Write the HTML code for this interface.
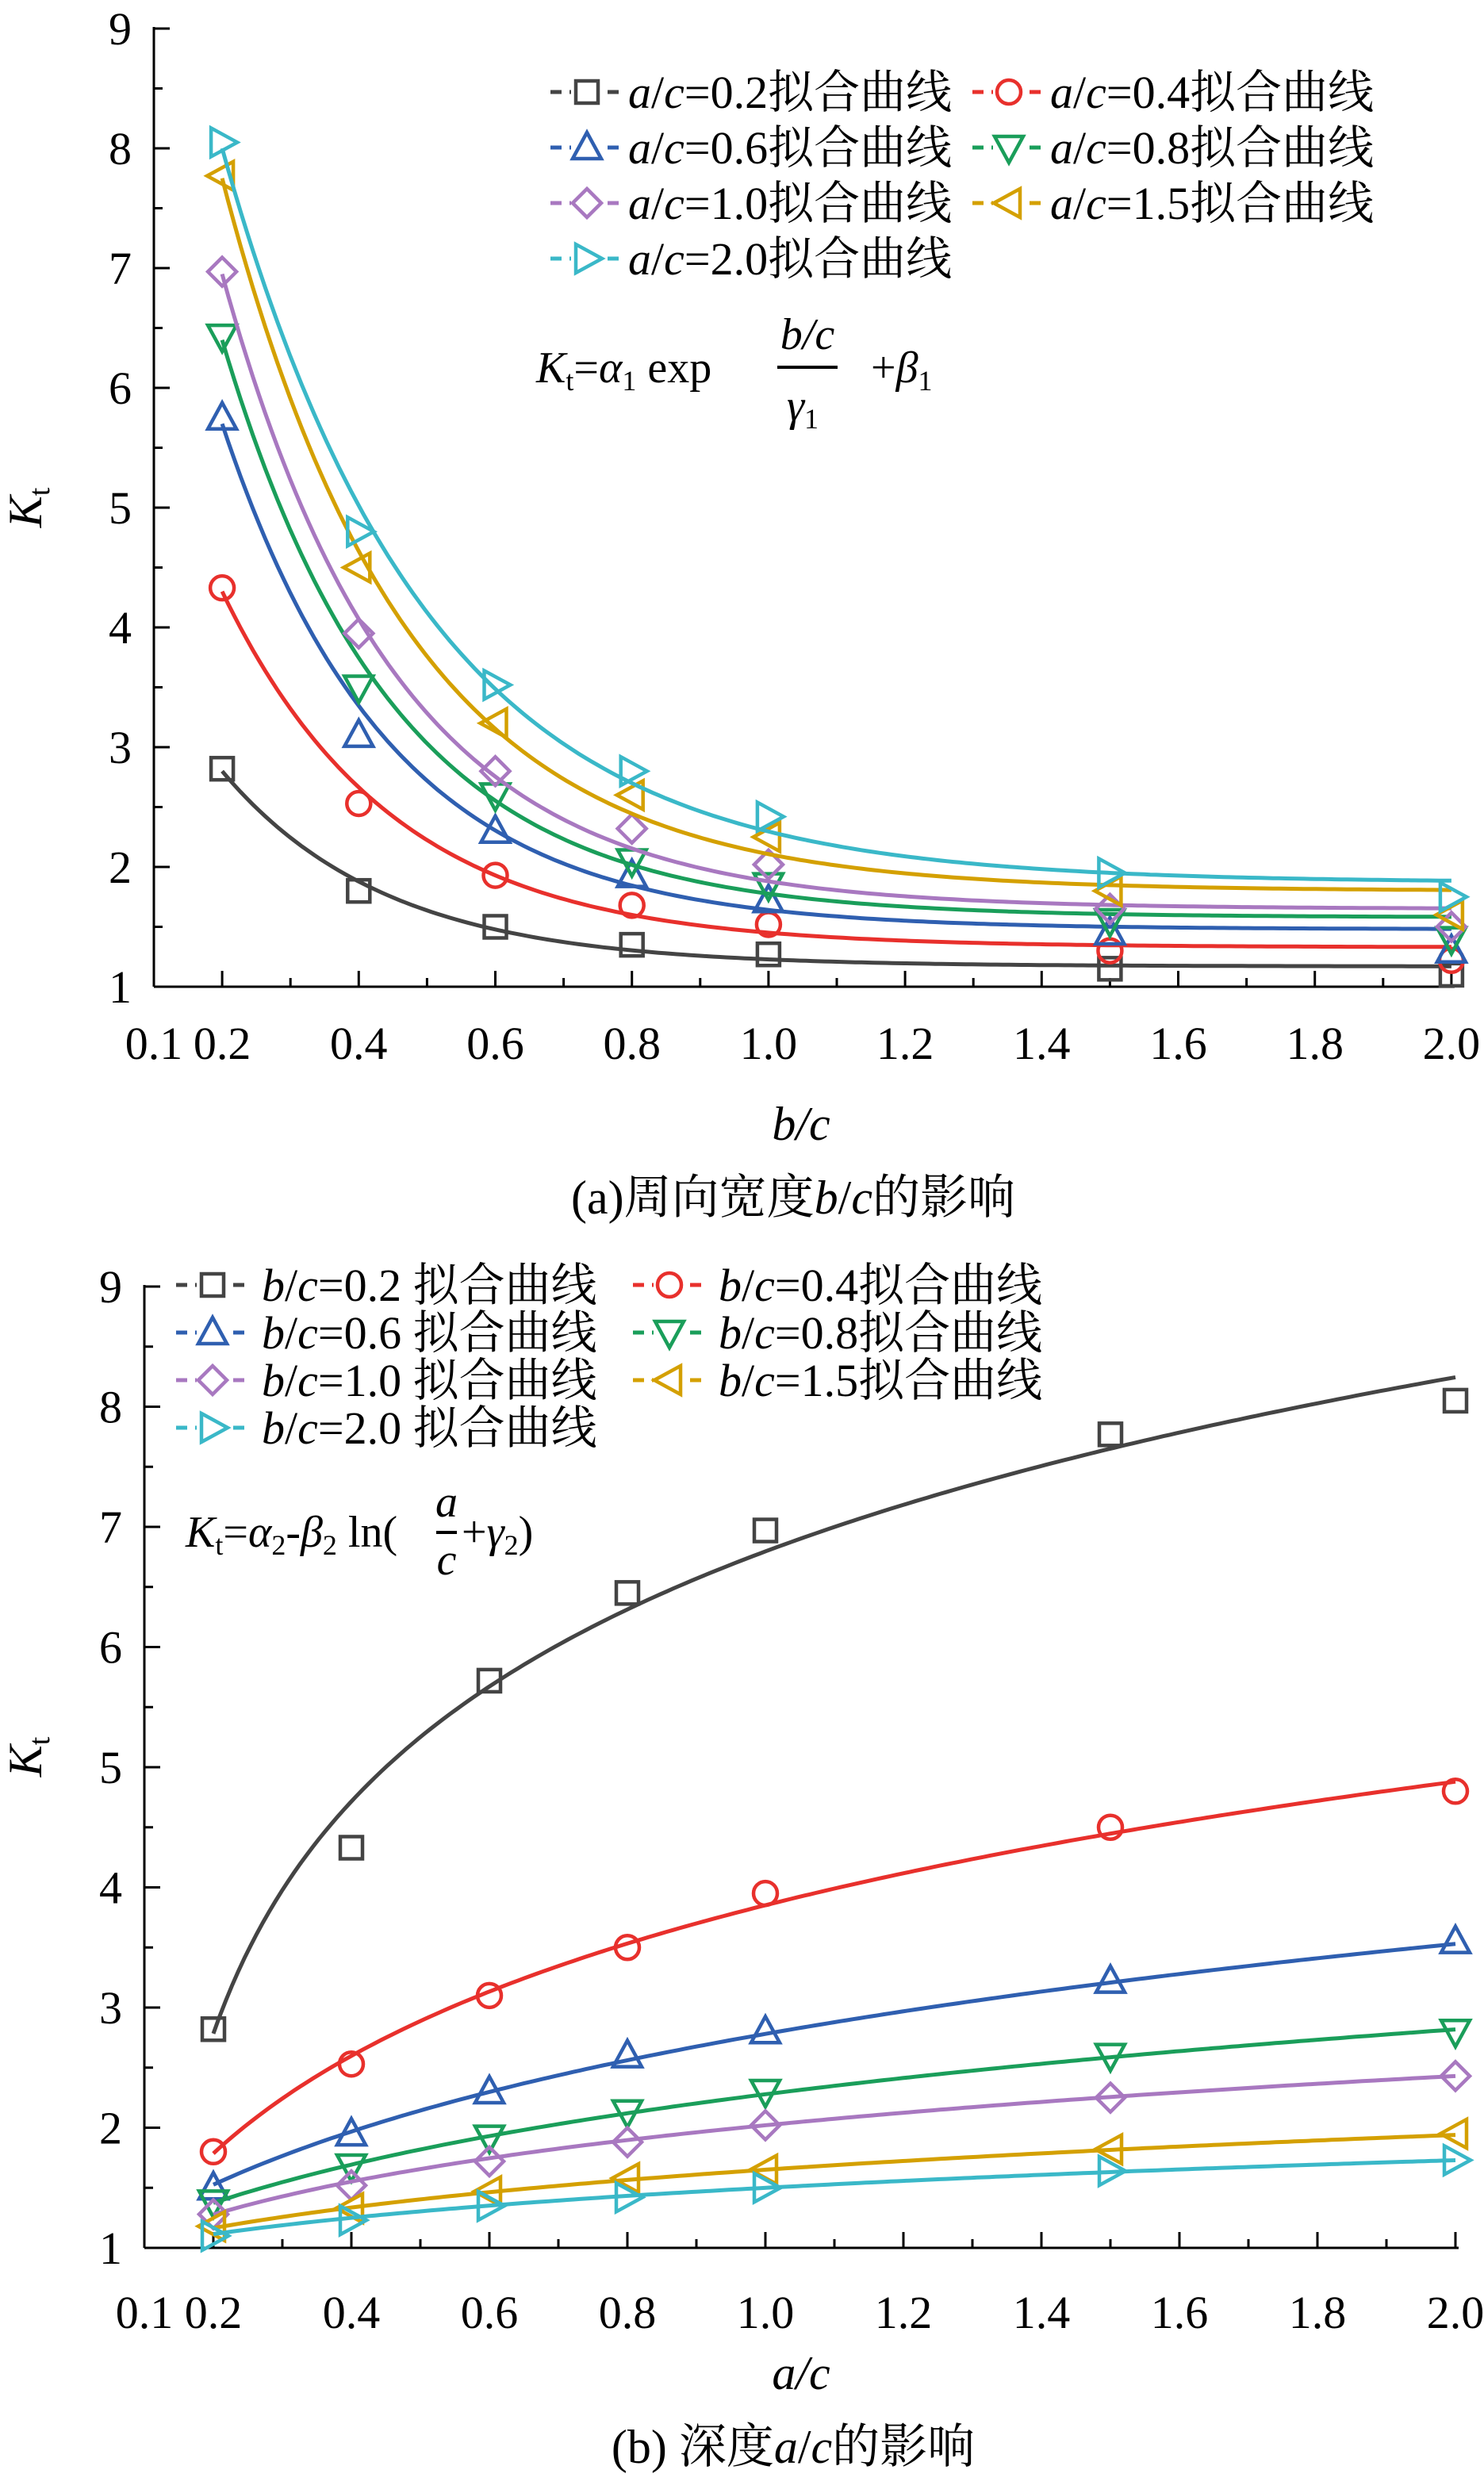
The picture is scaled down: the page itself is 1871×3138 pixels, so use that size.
<!DOCTYPE html>
<html><head><meta charset="utf-8">
<style>
html,body{margin:0;padding:0;background:#fff;}
svg{display:block;font-family:"Liberation Serif","Noto Serif CJK SC",serif;}
</style></head>
<body>
<svg id="root" width="1871" height="3138" viewBox="0 0 1871 3138" xmlns="http://www.w3.org/2000/svg"></svg>
<script>
// ---------- data ----------
const xCats = [0.2, 0.4, 0.6, 0.8, 1.0, 1.5, 2.0];
const colors = ['#444444', '#e8302c', '#2f5fb0', '#1a9e5a', '#a878c0', '#d4a000', '#3ab8c8'];
const markers = ['square', 'circle', 'up', 'down', 'diamond', 'left', 'right'];
const labelsA = ['0.2', '0.4', '0.6', '0.8', '1.0', '1.5', '2.0'];
// chart (a): rows = a/c series, values at b/c categories
const kA0 = [2.82, 1.80, 1.50, 1.35, 1.27, 1.15, 1.10];
const kA1 = [4.33, 2.53, 1.93, 1.68, 1.52, 1.30, 1.22];
const kA2 = [5.75, 3.10, 2.30, 1.93, 1.72, 1.45, 1.30];
const kA3 = [6.43, 3.50, 2.60, 2.05, 1.85, 1.55, 1.40];
const kA4 = [6.97, 3.95, 2.80, 2.32, 2.02, 1.65, 1.50];
const kA5 = [7.77, 4.50, 3.20, 2.60, 2.25, 1.80, 1.60];
const kA6 = [8.05, 4.80, 3.52, 2.80, 2.42, 1.95, 1.75];
// fit params chart (a): K = alpha*exp(-x/gamma)+beta
const fitA_k02 = [2.80, 4.30, 5.70, 6.40, 6.95, 7.75, 8.00];
const fitA_beta = [1.17, 1.33, 1.48, 1.58, 1.65, 1.80, 1.87];
const fitA_gamma = [0.24, 0.25, 0.245, 0.25, 0.255, 0.27, 0.30];
// chart (b)
const kB0 = [2.82, 4.33, 5.72, 6.45, 6.97, 7.77, 8.05];
const kB1 = [1.80, 2.53, 3.10, 3.50, 3.95, 4.50, 4.80];
const kB2 = [1.50, 1.95, 2.30, 2.60, 2.80, 3.22, 3.55];
const kB3 = [1.38, 1.68, 1.92, 2.13, 2.30, 2.60, 2.80];
const kB4 = [1.28, 1.52, 1.72, 1.88, 2.02, 2.25, 2.43];
const kB5 = [1.18, 1.33, 1.47, 1.58, 1.65, 1.82, 1.95];
const kB6 = [1.10, 1.23, 1.35, 1.42, 1.50, 1.64, 1.73];
// fit params chart (b): K = p + q*ln(x + r)
const fitB_p = [6.96, 3.70, 2.436, 2.03, 1.897, 1.517, 1.394];
const fitB_q = [1.97, 1.59, 1.313, 0.946, 0.676, 0.508, 0.403];
const fitB_r = [-0.08, 0.10, 0.30, 0.30, 0.20, 0.30, 0.30];
const xTicks = ['0.1','0.2','0.4','0.6','0.8','1.0','1.2','1.4','1.6','1.8','2.0'];
const yTicks = [1,2,3,4,5,6,7,8,9];

const NS='http://www.w3.org/2000/svg';
const root=document.getElementById('root');
function el(tag,attrs,parent){const e=document.createElementNS(NS,tag);for(const k in attrs)e.setAttribute(k,attrs[k]);(parent||root).appendChild(e);return e;}

function marker(g,type,cx,cy,color){
  const s=17;let e;
  if(type==='square') e=el('rect',{x:cx-s+3,y:cy-s+3,width:2*s-6,height:2*s-6},g);
  else if(type==='circle') e=el('circle',{cx:cx,cy:cy,r:s-2},g);
  else {
    let pts;
    if(type==='up') pts=[[0,-s-2],[s+1,s-3],[-s-1,s-3]];
    else if(type==='down') pts=[[0,s+2],[s+1,-s+3],[-s-1,-s+3]];
    else if(type==='diamond') pts=[[0,-s-1],[s+1,0],[0,s+1],[-s-1,0]];
    else if(type==='left') pts=[[-s-2,0],[s-3,-s-1],[s-3,s+1]];
    else pts=[[s+2,0],[-s+3,-s-1],[-s+3,s+1]];
    e=el('polygon',{points:pts.map(p=>(cx+p[0])+','+(cy+p[1])).join(' ')},g);
  }
  e.setAttribute('fill','none');e.setAttribute('stroke',color);e.setAttribute('stroke-width','4.5');
  
  
  return e;
}

function axes(g,X,Y,x0,x1,y0,y1){
  el('line',{x1:x0,y1:y0,x2:x1,y2:y0,stroke:'#000','stroke-width':3},g);
  el('line',{x1:x0,y1:y0,x2:x0,y2:y1,stroke:'#000','stroke-width':3},g);
  for(let v=1;v<=9;v+=0.5){
    const y=Y(v);const major=Number.isInteger(v);
    el('line',{x1:x0,y1:y,x2:x0+(major?20:11),y2:y,stroke:'#000','stroke-width':3},g);
  }
  for(let i=1;i<=19;i++){
    const v=0.1*i+0.1;const x=X(v);const major=(i%2===1);
    if(v>2.001)break;
    el('line',{x1:x,y1:y0,x2:x,y2:y0-(major?20:11),stroke:'#000','stroke-width':3},g);
  }
}

function chart(opt){
  const g=el('g',{});
  
  
  const X=v=>opt.x0+(v-0.1)*opt.xs;
  const Y=v=>opt.y1+(v-1)*(opt.y9-opt.y1)/8;
  axes(g,X,Y,opt.x0,X(2.0)+4,opt.y1,opt.y9-2);
  yTicks.forEach(v=>{const t=el('text',{x:opt.x0-28,y:Y(v)+20,'text-anchor':'end','font-size':58},g);t.textContent=v;
    });
  xTicks.forEach(s=>{const t=el('text',{x:X(parseFloat(s)),y:opt.tickY,'text-anchor':'middle','font-size':58},g);t.textContent=s;
    });
  const yt=el('text',{x:0,y:0,'font-size':60,'font-style':'italic',transform:`translate(52,${opt.ytY}) rotate(-90)`,'text-anchor':'middle'},g);
  yt.innerHTML='K<tspan font-style="normal" font-size="38" dy="10">t</tspan>';
  
  const xt=el('text',{x:1010,y:opt.xtY,'text-anchor':'middle','font-size':60,'font-style':'italic'},g);
  xt.textContent=opt.xTitle;
  
  const cp=el('text',{x:1000,y:opt.capY,'text-anchor':'middle','font-size':60},g);
  cp.innerHTML=opt.caption;
  
  // series
  opt.series.forEach((vals,i)=>{
    const sg=el('g',{},g);
    
    
    let d='';
    for(let k=0;k<=200;k++){const xv=0.2+1.8*k/200;const yv=opt.fit(i,xv);d+=(k?'L':'M')+X(xv).toFixed(1)+','+Y(yv).toFixed(1);}
    const p=el('path',{d:d,fill:'none',stroke:colors[i],'stroke-width':5},sg);
    
    vals.forEach((v,j)=>marker(sg,markers[i],X(xCats[j]),Y(v),colors[i]));
  });
  // legend
  const lg=el('g',{},g);
  
  labelsA.forEach((s,i)=>{
    const col=i%2,row=Math.floor(i/2);
    const lx=opt.legX[col],ly=opt.legY0+row*opt.legDy;
    const eg=el('g',{},lg);
    
    el('line',{x1:lx,y1:ly,x2:lx+92,y2:ly,stroke:colors[i],'stroke-width':5,'stroke-dasharray':'14,10'},eg);
    el('rect',{x:lx+26,y:ly-20,width:40,height:40,fill:'#fff'},eg);
    marker(eg,markers[i],lx+46,ly,colors[i]);
    const t=el('text',{x:lx+opt.legTx,y:ly+20,'font-size':58},eg);
    const gap=(col===0)?opt.legGap:'';
    t.innerHTML='<tspan font-style="italic">'+opt.legVar[0]+'</tspan>/<tspan font-style="italic">'+opt.legVar[1]+'</tspan>='+s+gap+'<tspan font-family="Noto Serif CJK SC, serif">拟合曲线</tspan>';
  });
}

chart({name:'chart-a-width-effect',x0:194,xs:861,y1:1244,y9:36,tickY:1335,ytY:640,xtY:1437,capY:1530,
  xTitle:'b/c',caption:'(a)<tspan font-family="Noto Serif CJK SC, serif">周向宽度</tspan><tspan font-style="italic">b</tspan>/<tspan font-style="italic">c</tspan><tspan font-family="Noto Serif CJK SC, serif">的影响</tspan>',
  series:[kA0,kA1,kA2,kA3,kA4,kA5,kA6],
  fit:(i,x)=>{const a=(fitA_k02[i]-fitA_beta[i])*Math.exp(0.2/fitA_gamma[i]);return a*Math.exp(-x/fitA_gamma[i])+fitA_beta[i];},
  legX:[694,1226],legY0:116,legDy:70,legTx:98,legVar:['a','c'],legGap:''});

chart({name:'chart-b-depth-effect',x0:182,xs:870,y1:2834,y9:1622,tickY:2935,ytY:2215,xtY:3012,capY:3105,
  xTitle:'a/c',caption:'(b) <tspan font-family="Noto Serif CJK SC, serif">深度</tspan><tspan font-style="italic">a</tspan>/<tspan font-style="italic">c</tspan><tspan font-family="Noto Serif CJK SC, serif">的影响</tspan>',
  series:[kB0,kB1,kB2,kB3,kB4,kB5,kB6],
  fit:(i,x)=>fitB_p[i]+fitB_q[i]*Math.log(x+fitB_r[i]),
  legX:[222,798],legY0:1620,legDy:60,legTx:108,legVar:['b','c'],legGap:' '});

// formulas
const f1=el('text',{x:676,y:482,'font-size':56});
f1.innerHTML='<tspan font-style="italic">K</tspan><tspan font-size="36" dy="10">t</tspan><tspan dy="-10">=</tspan><tspan font-style="italic">α</tspan><tspan font-size="36" dy="10">1</tspan><tspan dy="-10"> exp</tspan>';

const f1n=el('text',{x:1018,y:440,'font-size':56,'font-style':'italic','text-anchor':'middle'});f1n.textContent='b/c';

el('line',{x1:980,y1:463,x2:1056,y2:463,stroke:'#000','stroke-width':4});
const f1d=el('text',{x:1012,y:530,'font-size':56,'font-style':'italic','text-anchor':'middle'});f1d.innerHTML='γ<tspan font-style="normal" font-size="36" dy="10">1</tspan>';

const f1b=el('text',{x:1098,y:482,'font-size':56});f1b.innerHTML='+<tspan font-style="italic">β</tspan><tspan font-size="36" dy="10">1</tspan>';


const f2=el('text',{x:234,y:1950,'font-size':56});
f2.innerHTML='<tspan font-style="italic">K</tspan><tspan font-size="36" dy="10">t</tspan><tspan dy="-10">=</tspan><tspan font-style="italic">α</tspan><tspan font-size="36" dy="10">2</tspan><tspan dy="-10">-</tspan><tspan font-style="italic">β</tspan><tspan font-size="36" dy="10">2</tspan><tspan dy="-10"> ln(</tspan>';

const f2n=el('text',{x:563,y:1912,'font-size':56,'font-style':'italic','text-anchor':'middle'});f2n.textContent='a';
el('line',{x1:550,y1:1932,x2:576,y2:1932,stroke:'#000','stroke-width':4});
const f2d=el('text',{x:563,y:1985,'font-size':56,'font-style':'italic','text-anchor':'middle'});f2d.textContent='c';
const f2b=el('text',{x:582,y:1950,'font-size':56});f2b.innerHTML='+<tspan font-style="italic">γ</tspan><tspan font-size="36" dy="10">2</tspan><tspan dy="-10">)</tspan>';

</script>
</body></html>
